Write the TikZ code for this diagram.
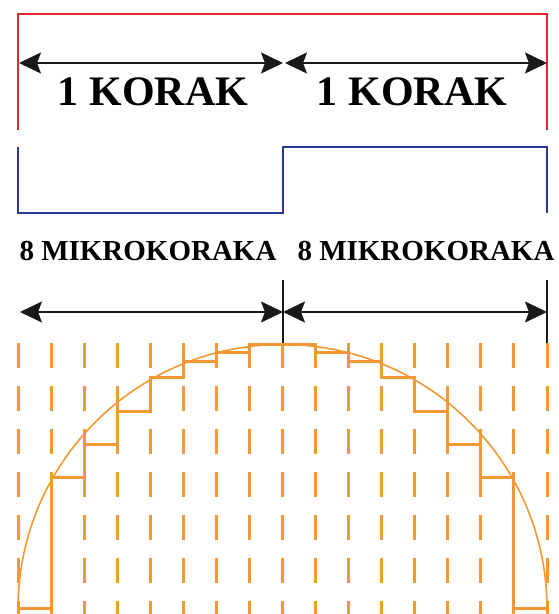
\documentclass[tikz,border=0pt]{standalone}
\usepackage{fontspec}
\setmainfont{Liberation Serif}
\usetikzlibrary{arrows.meta}

\definecolor{stepred}{RGB}{226,38,48}
\definecolor{stepblue}{RGB}{44,56,150}
\definecolor{microorange}{RGB}{243,152,52}

\begin{document}
\begin{tikzpicture}[
  x=1pt, y=1pt,
  dimarr/.style={{Stealth[length=22pt,width=21pt,inset=4pt]}-{Stealth[length=22pt,width=21pt,inset=4pt]}, line width=2pt, black!90},
  tick/.style={line width=2pt, black!90},
  redwave/.style={line width=2.5pt, stepred},
  bluewave/.style={line width=2.5pt, stepblue},
  grid/.style={line width=3pt, microorange, dash pattern=on 25pt off 18pt},
  stair/.style={line width=3pt, microorange, line join=miter},
  curve/.style={line width=1.6pt, microorange},
  big/.style={font=\fontsize{42}{42}\selectfont\bfseries, anchor=base, inner sep=0pt},
  mid/.style={font=\fontsize{29}{29}\selectfont\bfseries, anchor=base, inner sep=0pt}
]
\useasboundingbox (0,0) rectangle (558,614);

% coil signals
\draw[redwave] (18,484) -- (18,600) -- (547,600) -- (547,484);
\draw[bluewave] (18,467) -- (18,401) -- (283,401) -- (283,467) -- (547,467) -- (547,401);

% full steps
\coordinate (k1l) at (19,551);
\coordinate (k1r) at (283,551);
\coordinate (k2l) at (285,551);
\coordinate (k2r) at (547,551);
\draw[dimarr] (k1l) -- (k1r);
\draw[dimarr] (k2l) -- (k2r);
\node[big] (korak1) at (153,508) {1 KORAK};
\node[big] (korak2) at (412,508) {1 KORAK};

% micro steps
\node[mid] (mikro1) at (148,353) {8 MIKROKORAKA};
\node[mid] (mikro2) at (426,353) {8 MIKROKORAKA};
\coordinate (t1a) at (283,334);
\coordinate (t1b) at (283,269);
\coordinate (t2a) at (547,334);
\coordinate (t2b) at (547,267);
\draw[tick] (t1a) -- (t1b);
\draw[tick] (t2a) -- (t2b);
\coordinate (m1l) at (20,302);
\coordinate (m1r) at (283,302);
\coordinate (m2l) at (283,302);
\coordinate (m2r) at (547,302);
\draw[dimarr] (m1l) -- (m1r);
\draw[dimarr] (m2l) -- (m2r);

% grid
\foreach \i in {0,...,16}
  \draw[grid] ({18+33.0625*\i},271) -- ({18+33.0625*\i},0);

% sine and its staircase
\draw[curve] (18,5) arc[start angle=180, end angle=0, radius=264.5];
\draw[stair] (18,5) -- (51.1,5) -- (51.1,136) -- (84.1,136) -- (84.1,169)
  -- (117.2,169) -- (117.2,202) -- (150.2,202) -- (150.2,236) -- (183.3,236)
  -- (183.3,252) -- (216.4,252) -- (216.4,261) -- (249.4,261) -- (249.4,269)
  -- (315.6,269) -- (315.6,261) -- (348.6,261) -- (348.6,252) -- (381.7,252)
  -- (381.7,236) -- (414.8,236) -- (414.8,202) -- (447.8,202) -- (447.8,169)
  -- (480.9,169) -- (480.9,136) -- (513.9,136) -- (513.9,5) -- (547,5);

\end{tikzpicture}
\end{document}
